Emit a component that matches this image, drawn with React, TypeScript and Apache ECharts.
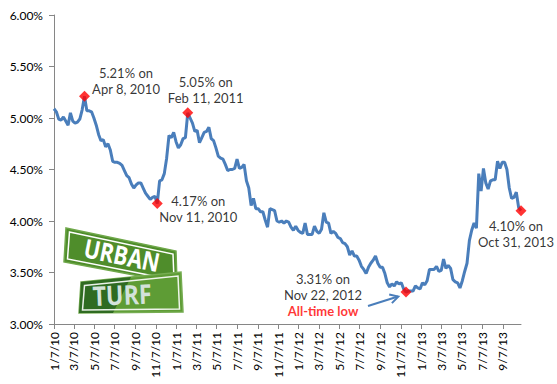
import React, { useEffect, useRef } from 'react';
import * as echarts from 'echarts';

// Weekly 30-year fixed mortgage rates (%), first week = 1/7/10
const startDate = '1/7/10';
const daysPerWeek = 7;
const rates2010 = [5.09, 5.06, 4.99, 4.98, 5.01, 4.97, 4.93, 5.05, 4.97, 4.95, 4.96, 4.99, 5.08, 5.21, 5.07, 5.07, 5.06, 5.0, 4.93, 4.84, 4.78, 4.79, 4.72, 4.75, 4.69, 4.58, 4.57, 4.57, 4.56, 4.54, 4.49, 4.44, 4.42, 4.36, 4.32, 4.35, 4.37, 4.37, 4.32, 4.27, 4.24, 4.21, 4.23, 4.24, 4.17, 4.39, 4.4, 4.46, 4.61, 4.83, 4.81, 4.86];
const rates2011 = [4.77, 4.71, 4.74, 4.8, 4.81, 5.05, 5.0, 4.95, 4.87, 4.88, 4.76, 4.81, 4.86, 4.87, 4.91, 4.8, 4.78, 4.71, 4.63, 4.61, 4.6, 4.55, 4.49, 4.5, 4.5, 4.51, 4.6, 4.51, 4.52, 4.55, 4.39, 4.32, 4.15, 4.22, 4.12, 4.12, 4.09, 4.09, 4.01, 3.94, 4.12, 4.11, 4.1, 4.0, 3.99, 4.0, 3.98, 4.0, 3.99, 3.94, 3.91, 3.95];
const rates2012 = [3.91, 3.89, 3.88, 3.98, 3.87, 3.87, 3.87, 3.95, 3.9, 3.88, 3.92, 4.08, 3.99, 3.98, 3.88, 3.9, 3.88, 3.84, 3.83, 3.79, 3.78, 3.75, 3.67, 3.71, 3.66, 3.66, 3.62, 3.56, 3.53, 3.49, 3.55, 3.59, 3.62, 3.66, 3.59, 3.55, 3.55, 3.49, 3.4, 3.36, 3.39, 3.37, 3.41, 3.39, 3.4, 3.34, 3.31, 3.32, 3.32, 3.32, 3.37, 3.35];
const rates2013 = [3.34, 3.4, 3.38, 3.42, 3.53, 3.53, 3.53, 3.56, 3.51, 3.52, 3.63, 3.54, 3.57, 3.54, 3.43, 3.41, 3.4, 3.35, 3.42, 3.51, 3.59, 3.81, 3.91, 3.98, 3.93, 4.46, 4.29, 4.51, 4.37, 4.31, 4.39, 4.4, 4.4, 4.58, 4.51, 4.57, 4.57, 4.5, 4.32, 4.22, 4.23, 4.28, 4.13, 4.1];

const xTickLabels = ['1/7/10', '3/7/10', '5/7/10', '7/7/10', '9/7/10', '11/7/10', '1/7/11', '3/7/11', '5/7/11', '7/7/11', '9/7/11', '11/7/11', '1/7/12', '3/7/12', '5/7/12', '7/7/12', '9/7/12', '11/7/12', '1/7/13', '3/7/13', '5/7/13', '7/7/13', '9/7/13'];
const yMin = 3;
const yMax = 6;
const yStep = 0.5;

const annotations = [
  { index: 13, text: '5.21% on\nApr 8, 2010' },
  { index: 44, text: '4.17% on\nNov 11, 2010' },
  { index: 57, text: '5.05% on\nFeb 11, 2011' },
  { index: 150, text: '3.31% on\nNov 22, 2012\n{low|All-time low}' },
  { index: 199, text: '4.10% on\nOct 31, 2013' },
];
// label offsets (style), same order as annotations
const labelOffsets = [[41.5, -15], [41, 5.5], [18, -23], [-83, 3], [-5, 23]];

const toUTC = (s: string) => {
  const [m, d, y] = s.split('/').map(Number);
  return Date.UTC(2000 + y, m - 1, d);
};
const dayOf = (s: string) => (toUTC(s) - toUTC(startDate)) / 86400000;

export default function App() {
  const ref = useRef<HTMLDivElement>(null);
  useEffect(() => {
    document.body.style.margin = '0';
    if (!ref.current) return;
    const chart = echarts.init(ref.current, null, { renderer: 'svg' });
    const rates = [...rates2010, ...rates2011, ...rates2012, ...rates2013];
    const lineData = rates.map((v, i) => [i * daysPerWeek, v]);
    const tickDays = xTickLabels.map(dayOf);
    const lastDay = (rates.length - 1) * daysPerWeek;
    const font = 'Lato, "Open Sans", sans-serif';

    const scatterData = annotations.map((a, k) => ({
      value: lineData[a.index],
      label: {
        show: true,
        position: 'inside',
        offset: labelOffsets[k],
        formatter: a.text,
        fontFamily: font,
        fontSize: 13,
        color: '#000',
        lineHeight: 16,
        align: 'center',
        verticalAlign: 'middle',
        rich: {
          low: { color: '#ff0000', fontWeight: 'bold', fontSize: 13, fontFamily: font, lineHeight: 16 },
        },
      },
    }));

    const signGreen = '#4f8d2b';
    const signLight = '#5e9c35';
    const signDark = '#2f6b21';

    chart.setOption({
      animation: false,
      grid: { left: 54, right: 36, top: 15, bottom: 60 },
      xAxis: {
        type: 'value',
        min: 0,
        max: lastDay,
        axisLine: { show: true, lineStyle: { color: '#868686', width: 1 } },
        axisTick: { show: true, length: 5, customValues: tickDays, lineStyle: { color: '#868686' } },
        splitLine: { show: false },
        axisLabel: {
          customValues: tickDays,
          rotate: 90,
          margin: 8,
          fontSize: 12,
          fontFamily: font,
          color: '#000',
          formatter: (v: number) => {
            const i = tickDays.findIndex((t) => Math.abs(t - v) < 0.5);
            return i >= 0 ? xTickLabels[i] : '';
          },
        },
      },
      yAxis: {
        type: 'value',
        min: yMin,
        max: yMax,
        interval: yStep,
        axisLine: { show: true, lineStyle: { color: '#868686', width: 1 } },
        axisTick: { show: true, length: 5, lineStyle: { color: '#868686' } },
        splitLine: { show: false },
        axisLabel: {
          margin: 11,
          fontSize: 12,
          fontFamily: font,
          color: '#000',
          formatter: (v: number) => v.toFixed(2) + '%',
        },
      },
      series: [
        {
          type: 'line',
          data: lineData,
          showSymbol: false,
          symbol: 'none',
          lineStyle: { color: '#4a7ebb', width: 3 },
          z: 2,
        },
        {
          type: 'scatter',
          data: scatterData,
          symbol: 'diamond',
          symbolSize: 11,
          itemStyle: { color: '#ff0000' },
          z: 3,
        },
      ],
      graphic: [
        // arrow pointing to all-time low
        {
          type: 'line',
          shape: { x1: 368, y1: 306, x2: 398, y2: 296.5 },
          style: { stroke: '#4a7ebb', lineWidth: 2 },
          z: 10,
        },
        {
          type: 'polyline',
          shape: { points: [[389.2, 294.6], [398.3, 296.6], [391.9, 303.1]] },
          style: { stroke: '#4a7ebb', lineWidth: 2, fill: 'none' },
          z: 10,
        },
        // logo
        {
          type: 'group',
          z: 5,
          children: [
            {
              type: 'polygon',
              shape: { points: [[66, 228], [176, 251], [177, 283], [64, 262]] },
              style: { fill: signGreen, stroke: '#6fa84a', lineWidth: 1.5 },
            },
            {
              type: 'polygon',
              shape: { points: [[69.5, 232], [173, 254], [174, 280], [67.5, 259]] },
              style: { fill: 'none', stroke: '#ffffff', lineWidth: 1.5 },
            },
            {
              type: 'text',
              x: 122,
              y: 255,
              rotation: -0.2,
              scaleX: 0.82,
              style: {
                text: 'URBAN',
                fill: '#ffffff',
                font: 'bold 26px "Open Sans", Lato, sans-serif',
                align: 'center',
                verticalAlign: 'middle',
              },
            },
            {
              type: 'polygon',
              shape: { points: [[81, 282], [181, 272], [183, 312], [79, 313]] },
              style: { fill: signLight, stroke: '#76ad52', lineWidth: 1.5 },
            },
            {
              type: 'polygon',
              shape: { points: [[81, 282], [131, 277], [113, 313], [79, 313]] },
              style: { fill: signDark },
            },
            {
              type: 'polygon',
              shape: { points: [[84.5, 285.5], [178, 276], [179.5, 309], [82.5, 310]] },
              style: { fill: 'none', stroke: '#ffffff', lineWidth: 1.5, opacity: 0.9 },
            },
            {
              type: 'text',
              x: 122,
              y: 294,
              rotation: 0.04,
              scaleX: 0.86,
              style: {
                text: 'TURF',
                fill: '#d3e2da',
                font: 'bold 27px "Open Sans", Lato, sans-serif',
                align: 'center',
                verticalAlign: 'middle',
              },
            },
          ],
        },
      ],
    });
    return () => chart.dispose();
  }, []);
  return <div ref={ref} style={{ width: 557, height: 384 }} />;
}
